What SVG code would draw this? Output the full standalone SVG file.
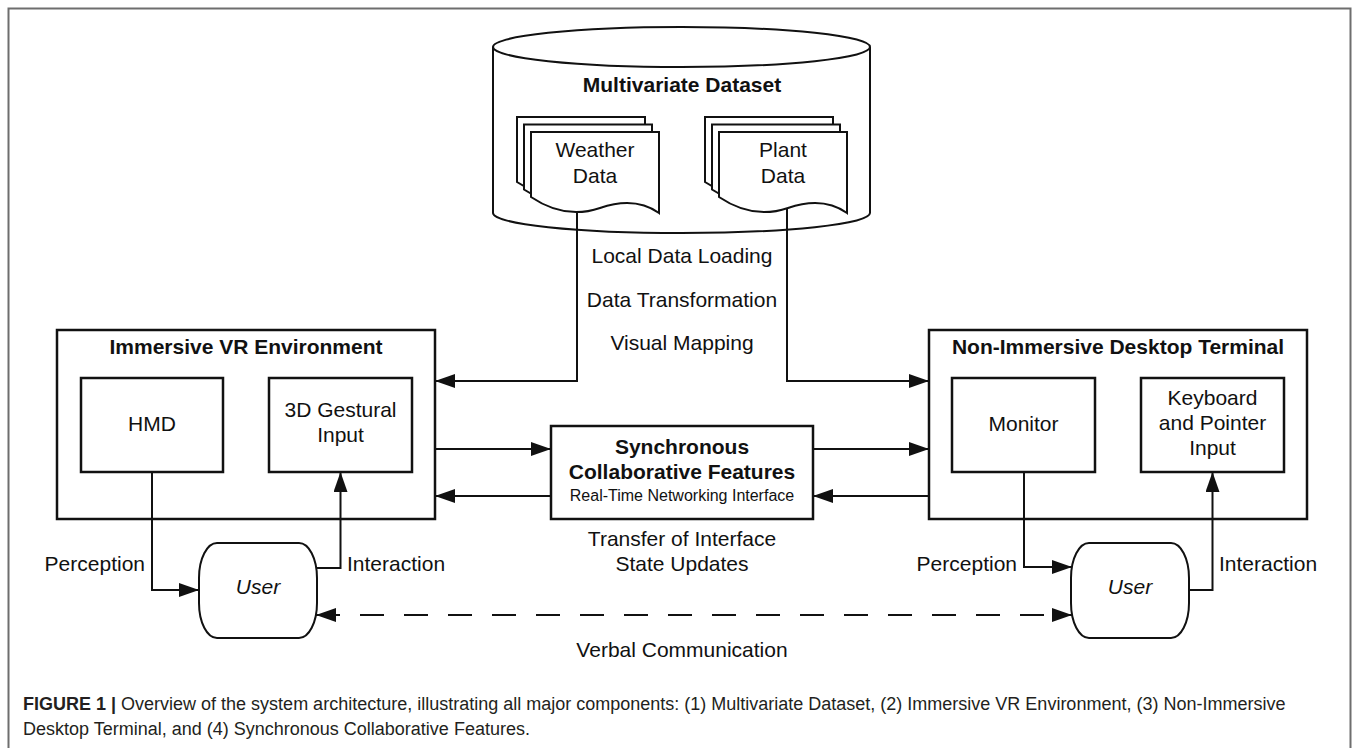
<svg xmlns="http://www.w3.org/2000/svg" width="1354" height="748" viewBox="0 0 1354 748">
  <defs>
    <style>
      .box { fill: #fff; stroke: #111; stroke-width: 2.5; }
      .doc { fill: #fff; stroke: #111; stroke-width: 2; }
      .ln { fill: none; stroke: #111; stroke-width: 2; }
      .t { font-family: "Liberation Sans", Arial, sans-serif; font-size: 21px; fill: #111; text-anchor: middle; }
      .b { font-weight: bold; }
      .l { text-anchor: start; }
      .r { text-anchor: end; }
      .cap { font-family: "Liberation Sans", Arial, sans-serif; font-size: 18px; fill: #231f20; }
    </style>
    <marker id="arrow" markerUnits="userSpaceOnUse" markerWidth="20" markerHeight="14" refX="20" refY="7" orient="auto-start-reverse">
      <path d="M0,0 L20,7 L0,14 Z" fill="#111"/>
    </marker>
  </defs>

  <rect width="1354" height="748" fill="#fff"/>
  <!-- figure frame -->
  <path d="M8.5,748 V8.5 H1350.5 V748" fill="none" stroke="#6e6e6e" stroke-width="2"/>

  <!-- dataset cylinder with document stacks -->
  <g id="dataset">
    <path class="doc" d="M493,47 V213 A188.5,20 0 0 0 870,213 V47"/>
    <ellipse class="doc" cx="681.5" cy="47" rx="188.5" ry="20"/>
    <text class="t b" x="682" y="92">Multivariate Dataset</text>
  </g>

  <g id="weather-data">
    <path class="doc" d="M517,117 V182 Q551,205 586,193 T645,198 V117 Z"/>
    <path class="doc" d="M524,124.5 V189.5 Q558,212.5 593,200.5 T652,205.5 V124.5 Z"/>
    <path class="doc" d="M531,132 V197 Q565,220 600,208 T659,213 V132 Z"/>
    <text class="t" x="595" y="157">Weather</text>
    <text class="t" x="595" y="183">Data</text>
  </g>

  <g id="plant-data">
    <path class="doc" d="M705,117 V182 Q739,205 774,193 T833,198 V117 Z"/>
    <path class="doc" d="M712,124.5 V189.5 Q746,212.5 781,200.5 T840,205.5 V124.5 Z"/>
    <path class="doc" d="M719,132 V197 Q753,220 788,208 T847,213 V132 Z"/>
    <text class="t" x="783" y="157">Plant</text>
    <text class="t" x="783" y="183">Data</text>
  </g>

  <!-- immersive VR side -->
  <g id="vr-environment">
    <rect class="box" x="57" y="330" width="378" height="189"/>
    <text class="t b" x="246" y="354">Immersive VR Environment</text>
  </g>
  <g id="hmd">
    <rect class="box" x="81" y="378" width="142" height="94"/>
    <text class="t" x="152" y="431">HMD</text>
  </g>
  <g id="gestural-input">
    <rect class="box" x="269" y="378" width="143" height="94"/>
    <text class="t" x="340.5" y="417">3D Gestural</text>
    <text class="t" x="340.5" y="442">Input</text>
  </g>

  <!-- desktop side -->
  <g id="desktop-terminal">
    <rect class="box" x="929" y="330" width="378" height="189"/>
    <text class="t b" x="1118" y="354">Non-Immersive Desktop Terminal</text>
  </g>
  <g id="monitor">
    <rect class="box" x="952" y="378" width="143" height="94"/>
    <text class="t" x="1023.5" y="431">Monitor</text>
  </g>
  <g id="keyboard-pointer">
    <rect class="box" x="1141" y="378" width="143" height="94"/>
    <text class="t" x="1212.5" y="405">Keyboard</text>
    <text class="t" x="1212.5" y="430">and Pointer</text>
    <text class="t" x="1212.5" y="455">Input</text>
  </g>

  <!-- networking hub -->
  <g id="sync-features">
    <rect class="box" x="551" y="426" width="262" height="93"/>
    <text class="t b" x="682" y="454">Synchronous</text>
    <text class="t b" x="682" y="479">Collaborative Features</text>
    <text class="t" x="682" y="501" style="font-size:16px">Real-Time Networking Interface</text>
  </g>

  <!-- users -->
  <g id="user-vr">
    <path class="doc" d="M217,543 H299 A18,35 0 0 1 317,578 V603 A18,35 0 0 1 299,638 H217 A18,35 0 0 1 199,603 V578 A18,35 0 0 1 217,543 Z"/>
    <text class="t" x="258" y="594" font-style="italic">User</text>
  </g>
  <g id="user-desktop">
    <path class="doc" d="M1089,543 H1171 A18,35 0 0 1 1189,578 V603 A18,35 0 0 1 1171,638 H1089 A18,35 0 0 1 1071,603 V578 A18,35 0 0 1 1089,543 Z"/>
    <text class="t" x="1130" y="594" font-style="italic">User</text>
  </g>

  <!-- connectors -->
  <g id="connectors">
    <path class="ln" d="M577,212 V381 H435" marker-end="url(#arrow)"/>
    <path class="ln" d="M787,208 V381 H929" marker-end="url(#arrow)"/>
    <path class="ln" d="M435,449 H551" marker-end="url(#arrow)"/>
    <path class="ln" d="M551,496 H435" marker-end="url(#arrow)"/>
    <path class="ln" d="M813,449 H929" marker-end="url(#arrow)"/>
    <path class="ln" d="M929,496 H813" marker-end="url(#arrow)"/>
    <path class="ln" d="M152,472 V590 H199" marker-end="url(#arrow)"/>
    <path class="ln" d="M316,568 H340.5 V472" marker-end="url(#arrow)"/>
    <path class="ln" d="M1024,472 V567 H1072" marker-end="url(#arrow)"/>
    <path class="ln" d="M1189,590 H1212.5 V472" marker-end="url(#arrow)"/>
    <path class="ln" d="M316,615 H1072" stroke-dasharray="24 20" marker-start="url(#arrow)" marker-end="url(#arrow)"/>
  </g>

  <!-- connector labels -->
  <g id="labels">
    <text class="t" x="682" y="263">Local Data Loading</text>
    <text class="t" x="682" y="307">Data Transformation</text>
    <text class="t" x="682" y="350">Visual Mapping</text>
    <text class="t" x="682" y="546">Transfer of Interface</text>
    <text class="t" x="682" y="571">State Updates</text>
    <text class="t r" x="145" y="571">Perception</text>
    <text class="t l" x="347" y="571">Interaction</text>
    <text class="t r" x="1017" y="571">Perception</text>
    <text class="t l" x="1219" y="571">Interaction</text>
    <text class="t" x="682" y="657">Verbal Communication</text>
  </g>

  <!-- caption -->
  <g id="caption">
    <text class="cap" x="23" y="710"><tspan font-weight="bold">FIGURE 1 |</tspan> Overview of the system architecture, illustrating all major components: (1) Multivariate Dataset, (2) Immersive VR Environment, (3) Non-Immersive</text>
    <text class="cap" x="23" y="735">Desktop Terminal, and (4) Synchronous Collaborative Features.</text>
  </g>
</svg>
